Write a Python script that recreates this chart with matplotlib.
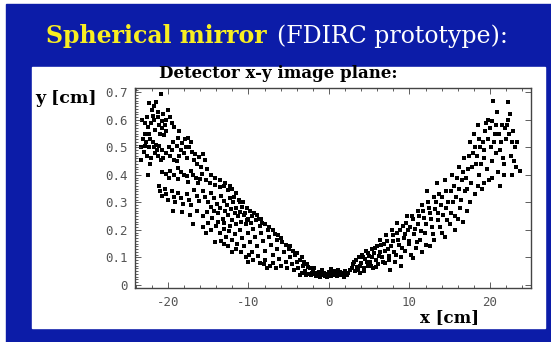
import matplotlib.pyplot as plt
import numpy as np
from matplotlib.patches import Rectangle
from matplotlib.ticker import FixedLocator, MultipleLocator

SLIDE_BLUE = "#0c1ca8"
TITLE_YELLOW = "#f8ee22"
TICK_GRAY = "#555555"

x_ticks = [-20, -10, 0, 10, 20]
x_tick_labels = ["-20", "-10", "0", "10", "20"]
y_ticks = [0, 0.1, 0.2, 0.3, 0.4, 0.5, 0.6, 0.7]
y_tick_labels = ["0", "0.1", "0.2", "0.3", "0.4", "0.5", "0.6", "0.7"]

# hit positions on the detector plane, in cm
left_arm = [
    (-20.9, 0.695), (-22.3, 0.66), (-21.8, 0.65), (-21.5, 0.665), (-22.0, 0.635),
    (-21.3, 0.63), (-21.9, 0.615), (-20.0, 0.636), (-20.6, 0.62), (-19.7, 0.61),
    (-20.3, 0.60), (-19.5, 0.59), (-22.8, 0.59), (-22.5, 0.575), (-21.1, 0.58),
    (-21.6, 0.565), (-20.7, 0.57), (-20.2, 0.56), (-19.2, 0.575), (-18.6, 0.56),
    (-22.9, 0.55), (-22.3, 0.55), (-21.0, 0.55), (-20.5, 0.545), (-18.8, 0.535),
    (-17.9, 0.53), (-17.5, 0.535), (-17.2, 0.52), (-23.1, 0.53), (-22.7, 0.52),
    (-22.9, 0.505), (-22.4, 0.50), (-23.0, 0.485), (-22.6, 0.47), (-21.9, 0.52),
    (-21.5, 0.51), (-21.1, 0.505), (-20.8, 0.49), (-21.6, 0.48), (-21.3, 0.47),
    (-20.6, 0.46), (-20.9, 0.455), (-22.1, 0.46), (-19.9, 0.50), (-19.5, 0.49),
    (-18.9, 0.505), (-18.4, 0.49), (-18.0, 0.48), (-18.6, 0.47), (-17.4, 0.50),
    (-17.0, 0.485), (-16.6, 0.475), (-16.2, 0.465), (-15.6, 0.475), (-15.4, 0.455),
    (-19.2, 0.455), (-17.7, 0.46), (-22.5, 0.40), (-23.4, 0.50), (-23.3, 0.455),
    (-22.2, 0.44), (-23.2, 0.60), (-22.6, 0.61), (-22.1, 0.59), (-21.7, 0.60),
    (-21.2, 0.61), (-20.8, 0.595), (-20.4, 0.58), (-22.2, 0.53), (-21.8, 0.50),
    (-21.4, 0.49), (-20.3, 0.48), (-19.8, 0.47), (-19.4, 0.52), (-18.9, 0.45),
    (-18.2, 0.515), (-17.8, 0.50), (-16.8, 0.455), (-16.4, 0.44), (-15.9, 0.43),
    (-15.1, 0.42), (-14.6, 0.40), (-14.1, 0.39), (-13.5, 0.38), (-12.9, 0.37),
    (-12.3, 0.36),
    (-20.7, 0.41), (-20.2, 0.405), (-19.7, 0.415), (-19.3, 0.40), (-18.8, 0.425),
    (-18.4, 0.41), (-18.0, 0.40), (-17.6, 0.395), (-17.2, 0.415), (-16.9, 0.40),
    (-16.5, 0.39), (-16.0, 0.385), (-15.8, 0.405), (-19.9, 0.39), (-18.7, 0.385),
    (-17.5, 0.375), (-16.3, 0.37), (-15.3, 0.38), (-14.8, 0.37), (-14.2, 0.365),
    (-13.6, 0.355), (-13.1, 0.36), (-12.5, 0.345), (-12.0, 0.35), (-11.6, 0.335),
    (-21.1, 0.36), (-21.0, 0.34), (-20.8, 0.325), (-20.4, 0.35), (-20.2, 0.33),
    (-20.0, 0.31), (-19.5, 0.34), (-19.3, 0.32), (-19.1, 0.30), (-18.7, 0.335),
    (-18.4, 0.315), (-18.1, 0.295), (-17.7, 0.33), (-17.4, 0.31), (-17.1, 0.29),
    (-16.8, 0.345), (-16.4, 0.325), (-16.1, 0.305), (-15.7, 0.34), (-15.4, 0.32),
    (-15.0, 0.30), (-14.6, 0.335), (-14.3, 0.315), (-13.9, 0.295), (-13.4, 0.325),
    (-13.1, 0.305), (-12.7, 0.29), (-12.3, 0.315), (-11.9, 0.30), (-11.5, 0.28),
    (-11.1, 0.30), (-10.8, 0.285), (-11.8, 0.32), (-11.2, 0.31), (-10.7, 0.30),
    (-19.4, 0.27), (-18.3, 0.265), (-16.9, 0.22), (-17.3, 0.255), (-16.4, 0.27),
    (-15.6, 0.25), (-15.1, 0.265), (-14.5, 0.245), (-13.8, 0.26), (-13.2, 0.24),
    (-12.6, 0.255), (-12.0, 0.235), (-11.3, 0.25), (-10.6, 0.255), (-10.1, 0.24),
    (-9.6, 0.25), (-14.7, 0.285), (-14.3, 0.27), (-13.6, 0.28), (-12.9, 0.27),
    (-12.2, 0.275), (-11.7, 0.26), (-11.0, 0.265), (-10.4, 0.26), (-10.2, 0.28),
    (-9.8, 0.27), (-9.3, 0.26), (-8.9, 0.255),
    (-13.8, 0.23), (-13.0, 0.225), (-12.3, 0.215), (-11.5, 0.22), (-10.9, 0.23),
    (-10.2, 0.235), (-9.7, 0.225), (-9.1, 0.235), (-8.7, 0.24), (-8.4, 0.24),
    (-15.6, 0.21), (-15.0, 0.225), (-14.6, 0.20), (-14.2, 0.156), (-14.0, 0.215),
    (-13.5, 0.19), (-13.1, 0.205), (-12.8, 0.175), (-12.4, 0.195), (-12.0, 0.12),
    (-12.1, 0.165), (-11.7, 0.185), (-11.4, 0.15), (-11.0, 0.20), (-10.8, 0.17),
    (-10.5, 0.14), (-10.3, 0.22), (-10.0, 0.084), (-10.1, 0.19), (-9.8, 0.155),
    (-9.6, 0.12), (-9.4, 0.205), (-9.2, 0.175), (-9.0, 0.14), (-8.8, 0.105),
    (-8.6, 0.215), (-8.5, 0.19), (-8.3, 0.225), (-8.2, 0.16), (-8.0, 0.125),
    (-7.9, 0.09), (-7.7, 0.062), (-7.6, 0.20), (-7.4, 0.175), (-7.2, 0.145),
    (-7.0, 0.11), (-6.9, 0.08), (-6.7, 0.185), (-6.5, 0.164), (-6.4, 0.13),
    (-6.2, 0.095), (-6.0, 0.07), (-5.8, 0.155), (-5.6, 0.12), (-5.4, 0.085),
    (-5.2, 0.06), (-5.0, 0.13), (-4.8, 0.10), (-4.6, 0.075), (-4.4, 0.055),
    (-4.2, 0.11), (-4.0, 0.085), (-3.8, 0.06), (-3.6, 0.036), (-3.4, 0.10),
    (-3.2, 0.07), (-3.0, 0.05), (-2.7, 0.075), (-2.4, 0.06), (-2.1, 0.045),
    (-7.9, 0.22), (-7.4, 0.21), (-6.9, 0.20), (-6.3, 0.18), (-5.9, 0.17),
    (-5.4, 0.145), (-4.9, 0.14), (-4.5, 0.125), (-4.0, 0.115), (-3.6, 0.09),
    (-3.1, 0.085), (-2.6, 0.065), (-10.9, 0.12), (-10.3, 0.10), (-9.4, 0.09),
    (-8.6, 0.08), (-11.6, 0.13), (-12.6, 0.14), (-13.4, 0.16), (-15.3, 0.19),
    (-13.0, 0.15), (-9.9, 0.11), (-8.1, 0.075), (-7.3, 0.07), (-6.6, 0.06),
]

floor = [
    (-2.5, 0.040), (-2.2, 0.035), (-2.0, 0.050), (-1.8, 0.040), (-1.6, 0.033),
    (-1.5, 0.045), (-1.3, 0.038), (-1.1, 0.030), (-1.0, 0.042), (-0.8, 0.035),
    (-0.6, 0.045), (-0.5, 0.032), (-0.3, 0.040), (-0.1, 0.036), (0.0, 0.046),
    (0.2, 0.033), (0.4, 0.040), (0.5, 0.050), (0.7, 0.036), (0.9, 0.043),
    (1.0, 0.032), (1.2, 0.040), (1.4, 0.047), (1.5, 0.035), (1.7, 0.042),
    (1.9, 0.030), (2.0, 0.050), (2.2, 0.038), (2.4, 0.045), (-3.3, 0.045),
    (-2.8, 0.038), (-1.9, 0.060), (-0.9, 0.055), (0.3, 0.058), (1.1, 0.056),
    (2.6, 0.055), (-1.2, 0.048), (-0.2, 0.030), (0.8, 0.050), (1.8, 0.036),
]

right_arm = [
    (2.8, 0.060), (3.0, 0.075), (3.2, 0.050), (3.4, 0.090), (3.5, 0.065),
    (3.7, 0.100), (3.8, 0.045), (4.0, 0.080), (4.1, 0.110), (4.3, 0.060),
    (4.5, 0.095), (4.6, 0.125), (4.8, 0.070), (5.0, 0.105), (5.1, 0.085),
    (5.3, 0.130), (5.5, 0.060), (5.6, 0.115), (5.8, 0.090), (6.0, 0.140),
    (6.1, 0.075), (6.3, 0.164), (6.4, 0.120), (6.6, 0.100), (6.8, 0.150),
    (7.0, 0.080), (7.1, 0.180), (7.3, 0.130), (7.5, 0.105), (7.6, 0.055),
    (7.8, 0.200), (7.9, 0.160), (8.1, 0.120), (8.2, 0.085), (8.4, 0.225),
    (8.5, 0.190), (8.7, 0.145), (8.9, 0.100), (9.0, 0.070), (9.2, 0.215),
    (9.3, 0.170), (9.5, 0.125), (9.7, 0.250), (9.8, 0.200), (10.0, 0.150),
    (10.2, 0.110), (10.4, 0.098), (10.5, 0.240), (10.6, 0.185), (10.8, 0.135),
    (11.0, 0.270), (11.1, 0.220), (11.3, 0.165), (11.5, 0.120), (11.6, 0.290),
    (11.8, 0.245), (11.9, 0.190), (12.1, 0.145), (12.2, 0.340), (12.3, 0.300),
    (12.5, 0.140), (12.6, 0.260), (12.8, 0.210), (13.0, 0.320), (13.1, 0.165),
    (13.2, 0.275), (13.4, 0.370), (13.5, 0.235), (13.7, 0.330), (13.9, 0.290),
    (14.0, 0.190), (14.2, 0.255), (14.4, 0.380), (14.4, 0.175), (14.6, 0.340),
    (14.8, 0.300), (15.0, 0.220), (15.2, 0.260), (15.3, 0.400), (15.5, 0.360),
    (15.7, 0.200), (15.8, 0.320), (16.0, 0.240), (16.2, 0.430), (16.3, 0.280),
    (16.5, 0.380), (16.6, 0.230), (16.8, 0.460), (16.9, 0.340), (17.1, 0.270),
    (17.3, 0.420), (17.5, 0.520), (17.5, 0.300), (17.7, 0.370), (17.9, 0.480),
    (18.0, 0.550), (18.1, 0.330), (18.3, 0.440), (18.5, 0.580), (18.6, 0.400),
    (18.8, 0.500), (19.0, 0.350), (19.2, 0.460), (19.4, 0.560), (19.6, 0.420),
    (19.8, 0.600), (19.9, 0.380), (20.1, 0.500), (20.4, 0.670), (20.3, 0.450),
    (20.6, 0.550), (20.9, 0.630), (21.0, 0.410), (21.2, 0.360), (21.3, 0.490),
    (21.5, 0.580), (21.8, 0.440), (22.0, 0.530), (22.2, 0.665), (22.3, 0.600),
    (22.5, 0.620), (22.6, 0.470), (22.9, 0.560), (23.1, 0.500), (23.4, 0.520),
    (23.7, 0.415), (23.2, 0.430), (22.7, 0.400),
    (3.1, 0.085), (3.6, 0.055), (3.9, 0.070), (4.2, 0.100), (4.4, 0.050),
    (4.7, 0.085), (4.9, 0.115), (5.2, 0.070), (5.4, 0.100), (5.7, 0.135),
    (5.9, 0.065), (6.2, 0.105), (6.5, 0.145), (6.7, 0.085), (6.9, 0.125),
    (7.2, 0.160), (7.4, 0.090), (7.7, 0.140), (8.0, 0.180), (8.3, 0.110),
    (8.6, 0.165), (8.8, 0.200), (9.1, 0.135), (9.4, 0.185), (9.6, 0.225),
    (9.9, 0.160), (10.1, 0.210), (10.3, 0.250), (10.7, 0.205), (10.9, 0.155),
    (11.2, 0.250), (11.4, 0.195), (11.7, 0.270), (12.0, 0.220), (12.4, 0.280),
    (12.7, 0.240), (12.9, 0.185), (13.3, 0.300), (13.6, 0.260), (13.8, 0.210),
    (14.1, 0.320), (14.5, 0.280), (14.7, 0.235), (15.1, 0.340), (15.4, 0.300),
    (15.6, 0.250), (15.9, 0.390), (16.1, 0.350), (16.4, 0.310), (16.7, 0.410),
    (17.0, 0.390), (17.2, 0.350), (17.4, 0.470), (17.8, 0.430), (18.2, 0.500),
    (18.4, 0.470), (18.7, 0.530), (18.9, 0.440), (19.1, 0.520), (19.3, 0.490),
    (19.5, 0.590), (19.7, 0.530), (20.0, 0.570), (20.2, 0.595), (20.5, 0.520),
    (20.7, 0.480), (20.8, 0.580), (21.1, 0.550), (21.4, 0.520), (21.6, 0.460),
    (21.9, 0.570), (22.1, 0.580), (22.4, 0.550), (22.8, 0.520), (23.0, 0.450),
    (21.7, 0.400), (20.2, 0.390), (19.3, 0.370), (18.5, 0.360),
]

hits = np.array(left_arm + floor + right_arm)

W, H = 551, 342
fig = plt.figure(figsize=(W / 100, H / 100), dpi=100, facecolor="white")

# slide background and the white plot panel
fig.patches.append(Rectangle((6 / W, 0), 1 - 6 / W, 1 - 4 / H,
                             transform=fig.transFigure, color=SLIDE_BLUE, zorder=0))
fig.patches.append(Rectangle((32 / W, 14 / H), 513 / W, 261 / H,
                             transform=fig.transFigure, color="white", zorder=1))

fig.text(46 / W, 1 - 43 / H, "Spherical mirror", color=TITLE_YELLOW,
         fontsize=17, fontweight="bold", family="DejaVu Serif", va="baseline")
fig.text(277 / W, 1 - 43 / H, "(FDIRC prototype):", color="white",
         fontsize=17, family="DejaVu Serif", va="baseline")
fig.text(278 / W, 1 - 74 / H, "Detector x-y image plane:", color="black",
         fontsize=12, fontweight="bold", family="DejaVu Serif",
         ha="center", va="center")

ax = fig.add_axes([135 / W, 1 - 288 / H, 396 / W, 200 / H])
ax.set_zorder(2)
ax.scatter(hits[:, 0], hits[:, 1], s=8, marker="s", color="black", linewidths=0)

ax.set_xlim(-24.1, 25.1)
ax.set_ylim(-0.011, 0.716)
ax.xaxis.set_major_locator(FixedLocator(x_ticks))
ax.set_xticklabels(x_tick_labels)
ax.xaxis.set_minor_locator(MultipleLocator(2))
ax.yaxis.set_major_locator(FixedLocator(y_ticks))
ax.set_yticklabels(y_tick_labels)
ax.yaxis.set_minor_locator(MultipleLocator(0.01))

ax.tick_params(which="both", direction="in", top=True, right=True,
               color="#444444", width=0.6, labelcolor=TICK_GRAY,
               labelfontfamily="DejaVu Sans Mono", labelsize=9)
ax.tick_params(which="major", length=4)
ax.tick_params(which="minor", length=2)
ax.tick_params(axis="y", which="minor", right=False)
ax.tick_params(axis="x", pad=6)
ax.tick_params(axis="y", pad=5)
for spine in ax.spines.values():
    spine.set_color("#444444")
    spine.set_linewidth(1.0)

fig.text(35 / W, 1 - 103 / H, "y [cm]", fontsize=12.5, fontweight="bold",
         family="DejaVu Serif", va="baseline")
fig.text(450 / W, 1 - 318 / H, "x [cm]", fontsize=12, fontweight="bold",
         family="DejaVu Serif", ha="center", va="center")

fig.savefig("out.png", dpi=100)
